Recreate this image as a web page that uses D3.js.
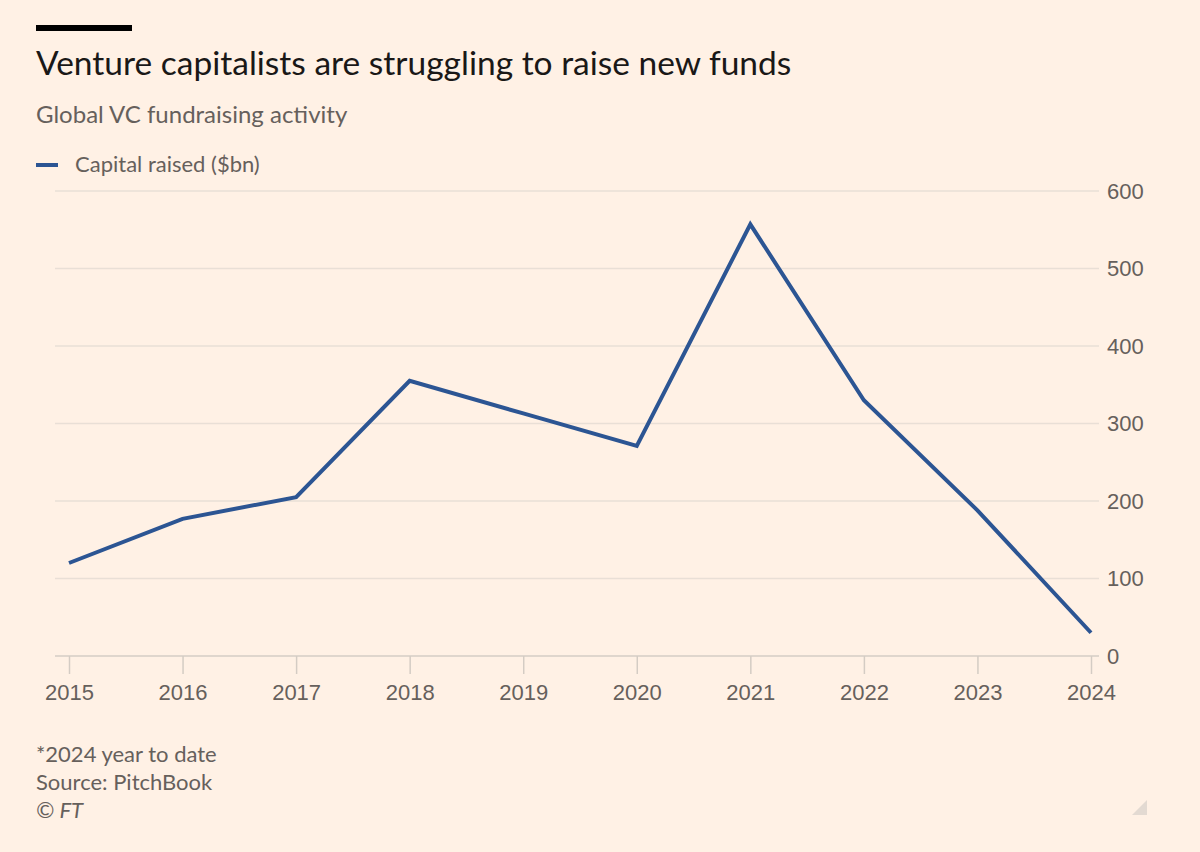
<!DOCTYPE html>
<html>
<head>
<meta charset="utf-8">
<script src="https://cdn.jsdelivr.net/npm/d3@7"></script>
<style>
  body { margin: 0; background: #fff1e5; }
  svg { display: block; font-family: Lato, "Open Sans", sans-serif; }
  .grid line { stroke: #e9dfd6; stroke-width: 1.5; }
  .axis text { fill: #66605c; font-size: 22px; }
</style>
</head>
<body>
<svg id="chart" width="1200" height="852"></svg>
<script>
// values
const years = [2015, 2016, 2017, 2018, 2019, 2020, 2021, 2022, 2023, 2024];
const capitalRaised = [120, 177, 205, 355, 313, 271, 557, 330, 188, 30];
const yTicks = [0, 100, 200, 300, 400, 500, 600];

const svg = d3.select("#chart");
const W = 1200, H = 852;

svg.append("rect").attr("width", W).attr("height", H).attr("fill", "#fff1e5");

// header
svg.append("rect").attr("x", 36).attr("y", 25).attr("width", 96).attr("height", 6).attr("fill", "#000");
svg.append("text").attr("x", 36).attr("y", 75)
  .attr("font-size", 33.5).attr("fill", "#1a1817")
  .text("Venture capitalists are struggling to raise new funds");
svg.append("text").attr("x", 36).attr("y", 123)
  .attr("font-size", 24).attr("fill", "#66605c")
  .text("Global VC fundraising activity");

// legend
svg.append("line").attr("x1", 36).attr("x2", 58).attr("y1", 165).attr("y2", 165)
  .attr("stroke", "#2c5593").attr("stroke-width", 4);
svg.append("text").attr("x", 75).attr("y", 172)
  .attr("font-size", 22).attr("fill", "#66605c")
  .text("Capital raised ($bn)");

const x = d3.scaleLinear().domain([2015, 2024]).range([69, 1091]);
const y = d3.scaleLinear().domain([0, 600]).range([656, 191]);

// gridlines
svg.append("g").attr("class", "grid")
  .selectAll("line").data(yTicks.filter(d => d > 0))
  .join("line")
  .attr("x1", 55).attr("x2", 1099)
  .attr("y1", d => y(d)).attr("y2", d => y(d));

// baseline
svg.append("line").attr("x1", 55).attr("x2", 1099).attr("y1", y(0)).attr("y2", y(0))
  .attr("stroke", "#d4ccc4").attr("stroke-width", 1.5);

// y axis on right
const yAxis = d3.axisRight(y).tickValues(yTicks).tickSize(0).tickPadding(0);
svg.append("g").attr("class", "axis")
  .attr("transform", "translate(1107,0)")
  .call(yAxis)
  .call(g => g.select(".domain").remove());

// x axis
const xAxis = d3.axisBottom(x).tickValues(years).tickFormat(d3.format("d")).tickSize(18).tickPadding(10);
svg.append("g").attr("class", "axis")
  .attr("transform", `translate(0,${y(0)})`)
  .call(xAxis)
  .call(g => g.select(".domain").remove())
  .call(g => g.selectAll(".tick line").attr("stroke", "#d4ccc4").attr("stroke-width", 1.5));

// the line
const line = d3.line().x((d, i) => x(years[i])).y(d => y(d));
svg.append("path").datum(capitalRaised)
  .attr("d", line)
  .attr("fill", "none")
  .attr("stroke", "#2c5593")
  .attr("stroke-width", 4)
  .attr("stroke-linejoin", "miter");

// footer
const notes = ["*2024 year to date", "Source: PitchBook"];
svg.append("g").selectAll("text").data(notes).join("text")
  .attr("x", 36).attr("y", (d, i) => 762 + i * 28)
  .attr("font-size", 22).attr("fill", "#66605c")
  .text(d => d);
svg.append("text").attr("x", 36).attr("y", 818)
  .attr("font-size", 22).attr("font-style", "italic").attr("fill", "#66605c")
  .text("© FT");

// corner mark
svg.append("path").attr("d", "M1147,800 L1147,815 L1132,815 Z").attr("fill", "#e3dad2");
</script>
</body>
</html>
